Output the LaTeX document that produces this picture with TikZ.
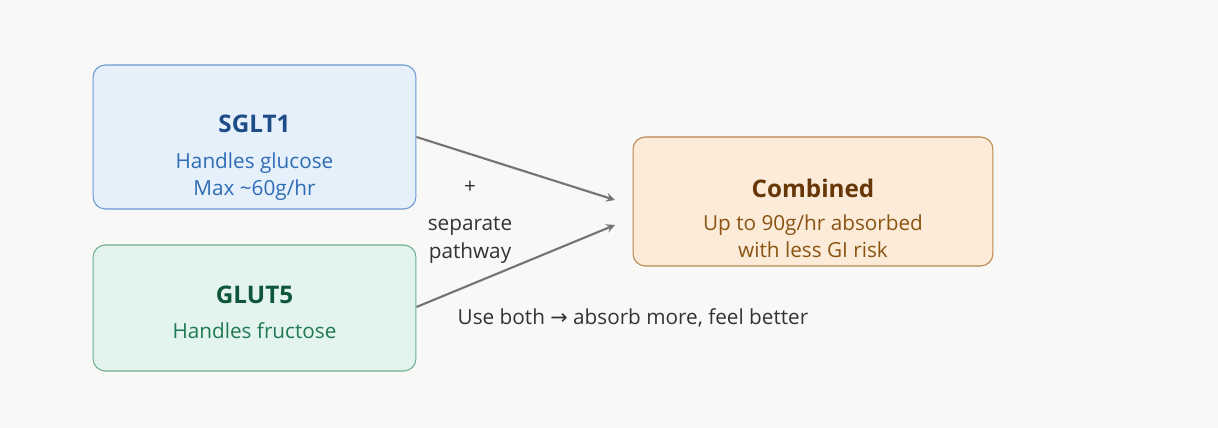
\documentclass[tikz,border=0pt]{standalone}
\usepackage{fontspec}
\setmainfont{Open Sans}
\newfontfamily\symfont{DejaVu Sans}
\usetikzlibrary{positioning}
\definecolor{bgc}{HTML}{F8F8F6}
\definecolor{sgfill}{HTML}{E6F0FB}\definecolor{sgline}{HTML}{6B98D2}
\definecolor{sgtitle}{HTML}{1D4C86}\definecolor{sgtext}{HTML}{2E6DB4}
\definecolor{glfill}{HTML}{E3F4EE}\definecolor{glline}{HTML}{6AAE90}
\definecolor{gltitle}{HTML}{0E563A}\definecolor{gltext}{HTML}{1F7A53}
\definecolor{cbfill}{HTML}{FBEBD8}\definecolor{cbline}{HTML}{B9864E}
\definecolor{cbtitle}{HTML}{673708}\definecolor{cbtext}{HTML}{8A5412}
\definecolor{arrowc}{HTML}{737373}
\tikzset{
  box/.style={draw, rounded corners=7pt, line width=0.6pt, minimum width=6.46cm, align=center},
  title/.style={font=\fontsize{13.8}{16}\selectfont\bfseries},
  body/.style={font=\fontsize{11.8}{15.5}\selectfont, align=center},
  link/.style={->, >=stealth, arrowc, line width=1.2pt}
}
\begin{document}
\begin{tikzpicture}[x=0.02cm, y=-0.02cm]
	\fill[bgc] (0,0) rectangle (1218,428);
	%% Boxen
	\node[box, fill=sgfill, draw=sgline, minimum height=2.88cm] (sglt) at (254.5,137) {};
	\node[title, sgtitle] at (254.5,124) {SGLT1};
	\node[body, sgtext] at (254.5,177) {Handles glucose\\Max \textasciitilde60g/hr};
	\node[box, fill=glfill, draw=glline, minimum height=2.52cm] (glut) at (254.5,308) {};
	\node[title, gltitle] at (254.5,295) {GLUT5};
	\node[body, gltext] at (254.5,331) {Handles fructose};
	\node[box, fill=cbfill, draw=cbline, minimum height=2.58cm, minimum width=7.2cm] (comb) at (813,201.5) {};
	\node[title, cbtitle] at (813,188) {Combined};
	\node[body, cbtext] at (813,236) {Up to 90g/hr absorbed\\with less GI risk};
	%% Pfeile
	\coordinate (endA) at (615,200);
	\coordinate (endB) at (615,225);
	\draw[link] (sglt.east |- 0,137) -- (endA);
	\draw[link] (glut.east |- 0,307) -- (endB);
	\node[body, text=black!80, fill=bgc, inner sep=1pt] (sep) at (470,222) {+\\[6pt]separate\\pathway};
	\node[body, text=black!80] (both) at (633,318) {Use both {\symfont →} absorb more, feel better};
\end{tikzpicture}
\end{document}
